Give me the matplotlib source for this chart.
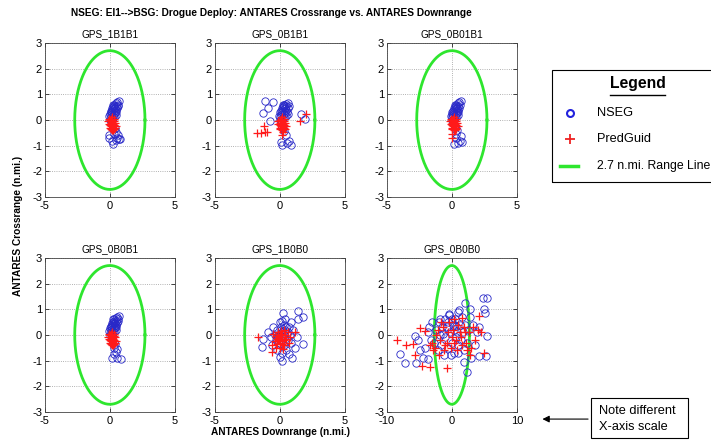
import numpy as np
import matplotlib
matplotlib.use("Agg")
import matplotlib.pyplot as plt
from matplotlib.patches import Rectangle, FancyArrowPatch
from matplotlib.lines import Line2D

plt.rcParams['font.family'] = ['Liberation Sans', 'DejaVu Sans']
plt.rcParams['axes.unicode_minus'] = False

# ---- data (downrange, crossrange) in n.mi. ----
range_line_radius = 2.7

titles = ["GPS_1B1B1", "GPS_0B1B1", "GPS_0B01B1", "GPS_0B0B1", "GPS_1B0B0", "GPS_0B0B0"]

nseg_1b1b1 = [(0.0, 0.0), (0.05, 0.1), (0.1, 0.2), (0.15, 0.3), (0.2, 0.4), (0.25, 0.5), (0.35, 0.6),
              (0.45, 0.65), (0.55, 0.7), (0.7, 0.75), (0.2, 0.05), (0.25, 0.15), (0.3, 0.25), (0.35, 0.35),
              (0.4, 0.45), (0.5, 0.55), (0.6, 0.6), (0.3, 0.55), (0.4, 0.3), (0.1, 0.35), (0.05, 0.3),
              (0.15, 0.45), (0.25, 0.6), (0.35, 0.45), (0.45, 0.4), (0.5, 0.3), (-0.05, 0.15), (0.0, 0.25),
              (0.3, 0.1), (0.45, 0.2), (0.55, 0.45), (0.65, 0.55), (0.4, -0.3), (0.5, -0.45), (0.35, -0.55),
              (-0.1, -0.6), (-0.05, -0.7), (0.15, -0.8), (0.25, -0.92), (0.55, -0.7), (0.7, -0.75),
              (0.8, -0.72), (0.6, -0.6), (0.45, -0.78)]
pred_1b1b1 = [(0.0, 0.0), (0.1, 0.05), (0.2, 0.0), (0.3, -0.05), (0.05, -0.1), (0.15, -0.1), (0.25, -0.15),
              (0.35, -0.2), (-0.1, -0.15), (0.0, -0.2), (0.1, -0.25), (0.2, -0.3), (0.3, -0.3), (0.4, -0.1),
              (0.45, -0.25), (0.15, -0.4), (0.05, -0.35), (0.25, -0.4), (-0.15, -0.05), (0.1, -0.15),
              (0.2, -0.2), (0.3, 0.05), (0.35, -0.35), (0.0, -0.3), (0.15, 0.1), (-0.05, 0.05), (0.2, -0.1),
              (0.1, -0.05), (0.25, -0.25), (0.4, -0.3)]

nseg_0b1b1 = [(0.0, 0.0), (0.05, 0.1), (0.1, 0.2), (0.15, 0.3), (0.2, 0.4), (0.25, 0.5), (0.35, 0.6),
              (0.45, 0.62), (0.6, 0.65), (0.2, 0.05), (0.3, 0.25), (0.35, 0.35), (0.4, 0.45), (0.5, 0.55),
              (0.3, 0.55), (0.4, 0.3), (0.1, 0.35), (0.15, 0.45), (0.25, 0.6), (0.45, 0.4), (0.55, 0.3),
              (-0.05, 0.15), (0.0, 0.3), (0.3, 0.1), (0.5, 0.15), (0.6, 0.45), (0.7, 0.55), (0.65, 0.25),
              (-1.12, 0.74), (-0.52, 0.7), (-0.9, 0.48), (-1.3, 0.26), (-0.78, -0.04), (1.61, 0.22), (1.95, 0.06),
              (0.3, -0.42), (0.45, -0.6), (0.18, -0.97), (0.1, -0.85), (0.7, -0.81), (0.88, -0.97),
              (0.55, -0.9), (0.25, -0.3)]
pred_0b1b1 = [(0.0, 0.0), (0.1, 0.05), (0.2, 0.0), (0.3, -0.05), (0.05, -0.1), (0.15, -0.1), (0.25, -0.15),
              (0.35, -0.2), (-0.1, -0.15), (0.0, -0.2), (0.1, -0.25), (0.2, -0.3), (0.3, -0.3), (0.4, -0.1),
              (0.45, -0.25), (0.15, -0.4), (0.05, -0.35), (0.25, -0.45), (-0.15, -0.05), (0.2, -0.2),
              (0.3, 0.05), (0.0, -0.3), (0.15, 0.1), (0.1, -0.05), (0.4, -0.35), (0.2, -0.6),
              (-1.77, -0.52), (-1.46, -0.52), (-1.12, -0.46), (-1.25, -0.22), (-1.0, -0.45),
              (2.05, 0.22), (1.56, -0.04)]

nseg_0b01b1 = [(0.0, 0.0), (0.05, 0.1), (0.1, 0.2), (0.15, 0.3), (0.2, 0.4), (0.25, 0.5), (0.35, 0.6),
               (0.45, 0.65), (0.55, 0.7), (0.7, 0.75), (0.2, 0.05), (0.25, 0.15), (0.3, 0.25), (0.35, 0.35),
               (0.4, 0.45), (0.5, 0.55), (0.6, 0.6), (0.3, 0.55), (0.4, 0.3), (0.1, 0.35), (0.05, 0.3),
               (0.15, 0.45), (0.25, 0.6), (0.35, 0.45), (0.45, 0.4), (0.5, 0.3), (-0.05, 0.15), (0.0, 0.25),
               (0.3, 0.1), (0.45, 0.2), (0.55, 0.45), (0.4, -0.4), (0.3, -0.55), (0.7, -0.62),
               (0.6, -0.8), (0.75, -0.85), (0.5, -0.9), (0.2, -0.92), (0.35, -0.7)]
pred_0b01b1 = [(0.0, 0.0), (0.1, 0.05), (0.2, 0.0), (0.3, -0.05), (0.05, -0.1), (0.15, -0.1), (0.25, -0.15),
               (0.35, -0.2), (-0.1, -0.15), (0.0, -0.2), (0.1, -0.25), (0.2, -0.3), (0.3, -0.3), (0.4, -0.1),
               (0.45, -0.25), (0.15, -0.4), (0.05, -0.35), (0.25, -0.4), (-0.15, -0.05), (0.1, -0.15),
               (0.2, -0.2), (0.3, 0.05), (0.35, -0.35), (0.0, -0.3), (0.15, 0.1), (-0.05, 0.05),
               (0.05, -0.55), (0.0, -0.7)]

nseg_0b0b1 = [(0.0, 0.0), (0.05, 0.1), (0.1, 0.2), (0.15, 0.3), (0.2, 0.4), (0.25, 0.5), (0.35, 0.6),
              (0.45, 0.65), (0.55, 0.7), (0.7, 0.75), (0.2, 0.05), (0.25, 0.15), (0.3, 0.25), (0.35, 0.35),
              (0.4, 0.45), (0.5, 0.55), (0.6, 0.6), (0.3, 0.55), (0.4, 0.3), (0.1, 0.35), (0.05, 0.3),
              (0.15, 0.45), (0.25, 0.6), (0.35, 0.45), (0.45, 0.4), (0.5, 0.3), (-0.05, 0.15), (0.0, 0.25),
              (0.3, 0.1), (0.45, 0.2), (0.55, 0.45), (0.65, 0.55), (0.4, -0.35), (0.35, -0.5),
              (0.55, -0.55), (0.5, -0.65), (0.2, -0.9), (0.55, -0.88), (0.85, -0.95), (0.3, -0.75)]
pred_0b0b1 = [(0.0, 0.0), (0.1, 0.05), (0.2, 0.0), (0.3, -0.05), (0.05, -0.1), (0.15, -0.1), (0.25, -0.15),
              (0.35, -0.2), (-0.1, -0.15), (0.0, -0.2), (0.1, -0.25), (0.2, -0.3), (0.3, -0.3), (0.4, -0.1),
              (0.45, -0.25), (0.15, -0.4), (0.05, -0.35), (0.25, -0.4), (-0.15, -0.1), (0.1, -0.15),
              (0.2, -0.2), (0.3, 0.05), (0.35, -0.35), (0.0, -0.3), (0.15, 0.1), (-0.05, 0.05), (0.4, -0.3)]

nseg_1b0b0 = [(0.0, 0.0), (0.2, 0.1), (0.4, 0.2), (0.1, 0.3), (0.3, 0.4), (0.5, 0.3), (0.6, 0.1), (-0.2, 0.2),
              (-0.4, 0.0), (-0.3, -0.2), (0.0, -0.3), (0.3, -0.4), (0.6, -0.2), (0.8, 0.0), (0.7, 0.3),
              (0.2, 0.55), (0.4, 0.6), (0.0, 0.5), (-0.5, 0.3), (-0.7, -0.1), (-0.6, -0.4), (-0.2, -0.6),
              (0.2, -0.7), (0.5, -0.6), (0.9, -0.3), (1.0, 0.2), (0.1, 0.2), (-0.1, -0.1), (0.3, 0.0),
              (1.43, 0.93), (1.8, 0.71), (1.43, 0.62), (0.26, 0.86), (1.8, -0.35), (0.96, -0.91),
              (-1.38, -0.46), (-1.3, -0.16), (0.18, -1.02), (0.0, -0.85), (1.3, -0.1), (1.2, -0.5),
              (0.7, -0.75), (-0.9, 0.1), (0.9, 0.5)]
pred_1b0b0 = [(0.0, 0.0), (0.1, -0.1), (0.2, 0.05), (-0.1, -0.2), (0.3, -0.2), (-0.3, -0.05), (0.0, -0.3),
              (0.2, -0.35), (-0.2, -0.35), (0.4, 0.0), (-0.4, -0.25), (0.1, 0.15), (-0.15, 0.1), (0.35, -0.4),
              (0.5, -0.15), (-0.5, 0.05), (0.05, -0.5), (-0.3, -0.5), (0.25, -0.55), (0.6, 0.1),
              (-0.6, -0.4), (0.7, -0.3), (-1.7, -0.1), (1.2, 0.12), (-0.6, -0.65), (0.8, -0.1),
              (-0.05, -0.15), (0.15, -0.25), (-0.25, -0.15), (0.3, 0.2)]

nseg_0b0b0 = [(4.77, 1.45), (5.44, 1.45), (5.0, 1.0), (5.1, 0.85), (2.07, 1.25), (2.85, 1.0), (1.04, 0.98),
              (-0.41, 0.76), (-1.8, 0.6), (-3.47, 0.32), (-8.0, -0.75), (-7.25, -1.11), (-5.44, -1.11),
              (-4.4, -0.88), (-3.6, -0.95), (-4.9, -0.6), (-5.7, -0.04), (-5.2, -0.2), (4.2, -0.81),
              (5.3, -0.81), (5.44, -0.05), (2.3, -1.43), (1.8, -1.07),
              (-2.5, 0.2), (-2.0, 0.5), (-1.5, 0.3), (-1.0, 0.6), (-0.5, 0.8), (0.0, 0.5), (0.5, 0.6),
              (1.0, 0.9), (1.5, 0.7), (2.0, 0.4), (2.5, 0.2), (-2.8, -0.3), (-2.2, -0.6), (-1.6, -0.4),
              (-1.2, -0.8), (-0.6, -0.5), (0.0, -0.3), (0.4, -0.7), (0.9, -0.4), (1.4, -0.2), (1.9, -0.6),
              (2.3, -0.3), (-0.3, 0.1), (0.3, 0.2), (0.8, 0.1), (-1.0, -0.1), (1.2, 0.4), (-0.8, 0.3),
              (0.6, -0.1), (1.7, 0.1), (-1.8, 0.0), (-0.2, -0.8), (0.2, 0.4), (0.1, 0.6), (-0.6, 0.5),
              (1.0, -0.7), (2.8, 0.7), (3.2, 0.4), (3.8, 0.1), (4.2, 0.3), (3.5, -0.4), (2.9, -0.9),
              (-3.2, -0.2), (-3.6, 0.1), (-3.0, 0.5), (-4.2, -0.5), (0.7, 0.35), (-1.3, 0.05)]
pred_0b0b0 = [(-8.4, -0.2), (-7.0, -0.4), (-5.96, -0.37), (-5.7, -0.8), (-4.9, 0.28), (-4.1, 0.15),
              (-4.6, -1.2), (-3.4, -1.25), (-0.78, -1.3), (4.15, 0.74), (4.9, -0.7),
              (-3.0, -0.3), (-2.6, -0.5), (-2.2, 0.2), (-1.8, -0.2), (-1.4, 0.3), (-1.0, -0.4), (-0.6, 0.1),
              (-0.2, -0.5), (0.2, 0.2), (0.6, -0.2), (1.0, 0.4), (1.4, -0.1), (1.8, 0.3), (2.2, -0.3),
              (2.6, 0.1), (3.0, -0.5), (-2.9, -0.6), (-2.4, 0.0), (-1.2, -0.6), (0.0, -0.1), (0.8, -0.6),
              (1.6, -0.4), (2.0, 0.1), (2.4, -0.6), (-0.4, 0.5), (0.4, 0.6), (1.2, 0.1), (-1.6, 0.5),
              (-3.4, -0.4), (3.6, -0.2), (4.0, 0.2), (3.3, 0.3), (2.8, -0.8), (-2.0, -0.8), (-0.8, -0.3),
              (0.3, -0.3), (1.5, 0.65), (4.5, 0.1)]

nseg_sets = [nseg_1b1b1, nseg_0b1b1, nseg_0b01b1, nseg_0b0b1, nseg_1b0b0, nseg_0b0b0]
pred_sets = [pred_1b1b1, pred_0b1b1, pred_0b01b1, pred_0b0b1, pred_1b0b0, pred_0b0b0]
x_limits = [5, 5, 5, 5, 5, 10]

# ---- figure ----
fig = plt.figure(figsize=(7.11, 4.43), dpi=100)
green = '#2ee62e'

lefts = [0.063, 0.302, 0.544]
bottoms = [0.555, 0.070]
theta = np.linspace(0, 2 * np.pi, 300)

for i in range(6):
    ax = fig.add_axes([lefts[i % 3], bottoms[i // 3], 0.183, 0.348])
    xl = x_limits[i]
    ax.plot(range_line_radius * np.cos(theta), range_line_radius * np.sin(theta), color=green, lw=2, zorder=2)
    nx, ny = zip(*nseg_sets[i])
    px, py = zip(*pred_sets[i])
    ax.plot(nx, ny, 'o', mfc='none', mec='#2828c8', ms=5.3, mew=0.6, zorder=3)
    ax.plot(px, py, '+', color='#ff1a1a', ms=6, mew=0.9, zorder=4)
    ax.set_xlim(-xl, xl)
    ax.set_ylim(-3, 3)
    ax.set_xticks([-xl, 0, xl])
    ax.set_yticks(range(-3, 4))
    ax.grid(True, linestyle=':', color='#999999', lw=0.6)
    ax.set_axisbelow(True)
    ax.tick_params(direction='in', length=3, width=0.5, labelsize=8, pad=2,
                   top=True, right=True)
    ax.tick_params(axis='x', pad=3)
    for s in ax.spines.values():
        s.set_linewidth(0.6)
        s.set_color('#444444')
    ax.set_title(titles[i], fontsize=7.2, pad=4)

fig.text(0.381, 0.971, "NSEG: EI1-->BSG: Drogue Deploy: ANTARES Crossrange vs. ANTARES Downrange",
         ha='center', va='center', fontsize=7.3, fontweight='bold')
fig.text(0.025, 0.49, "ANTARES Crossrange (n.mi.)", rotation=90, ha='center', va='center',
         fontsize=7.3, fontweight='bold')
fig.text(0.394, 0.025, "ANTARES Downrange (n.mi.)", ha='center', va='center',
         fontsize=7.3, fontweight='bold')

# legend box (runs off the right edge as in the original)
fig.patches.append(Rectangle((0.776, 0.589), 0.3, 0.253, transform=fig.transFigure,
                             fill=False, edgecolor='black', lw=0.8))
fig.text(0.897, 0.812, "Legend", ha='center', va='center', fontsize=11.3, fontweight='bold')
fig.add_artist(Line2D([0.858, 0.935], [0.786, 0.786], transform=fig.transFigure, color='black', lw=1.0))
fig.add_artist(Line2D([0.802], [0.745], transform=fig.transFigure, marker='o', mfc='none',
                      mec='#2222dd', ms=5, mew=1.5))
fig.add_artist(Line2D([0.802], [0.686], transform=fig.transFigure, marker='+', color='#ee2222',
                      ms=7, mew=1.3))
fig.add_artist(Line2D([0.788, 0.813], [0.625, 0.625], transform=fig.transFigure, color=green, lw=2.5))
fig.text(0.839, 0.745, "NSEG", ha='left', va='center', fontsize=9.2)
fig.text(0.839, 0.686, "PredGuid", ha='left', va='center', fontsize=9.2)
fig.text(0.839, 0.625, "2.7 n.mi. Range Line", ha='left', va='center', fontsize=8.8)

# note box with arrow
fig.patches.append(Rectangle((0.831, 0.0113), 0.137, 0.0903, transform=fig.transFigure,
                             fill=False, edgecolor='black', lw=0.8))
fig.text(0.843, 0.073, "Note different", ha='left', va='center', fontsize=9.2)
fig.text(0.843, 0.036, "X-axis scale", ha='left', va='center', fontsize=9.2)
fig.add_artist(FancyArrowPatch((0.831, 0.054), (0.759, 0.054), transform=fig.transFigure,
                               arrowstyle='-|>', mutation_scale=10, color='black', lw=0.8))

fig.savefig("out.png", dpi=100)
